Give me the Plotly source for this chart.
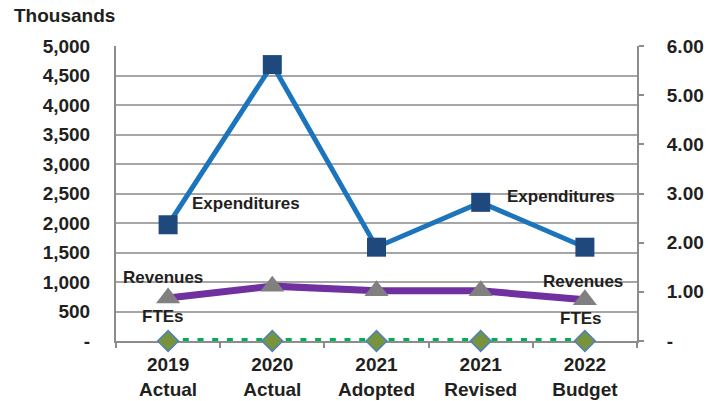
import plotly.graph_objects as go

categories = ["2019<br>Actual", "2020<br>Actual", "2021<br>Adopted", "2021<br>Revised", "2022<br>Budget"]
expenditures = [1970, 4685, 1590, 2350, 1590]
revenues = [730, 930, 850, 850, 700]
ftes = [0, 0, 0, 0, 0]

left_vals = [0, 500, 1000, 1500, 2000, 2500, 3000, 3500, 4000, 4500, 5000]
left_text = ["-", "500", "1,000", "1,500", "2,000", "2,500", "3,000", "3,500", "4,000", "4,500", "5,000"]
right_vals = [0, 1, 2, 3, 4, 5, 6]
right_text = ["-", "1.00", "2.00", "3.00", "4.00", "5.00", "6.00"]

FONT = "Liberation Sans, Arial, sans-serif"
TXT = "#231F20"
AX = "#8C8C8C"

fig = go.Figure()
fig.add_trace(go.Scatter(
    x=categories, y=ftes, yaxis="y2", mode="lines+markers", name="FTEs",
    line=dict(color="#00B050", width=6, dash="6px,8.7px"),
    marker=dict(symbol="diamond", size=16, color="#77933C", line=dict(color="#4F81BD", width=1.5)),
    cliponaxis=False,
))
fig.add_trace(go.Scatter(
    x=categories, y=revenues, mode="lines+markers", name="Revenues",
    line=dict(color="#7030A0", width=7),
    marker=dict(symbol="triangle-up", size=21, color="#808080"),
))
fig.add_trace(go.Scatter(
    x=categories, y=expenditures, mode="lines+markers", name="Expenditures",
    line=dict(color="#1C75BC", width=5),
    marker=dict(symbol="square", size=19, color="#1F497D"),
))

ann_font = dict(family=FONT, size=17, color=TXT)
lab = []
lab.append(dict(x=categories[0], y=expenditures[0], text="<b>Expenditures</b>", xanchor="left", yanchor="middle", xshift=22, yshift=21))
lab.append(dict(x=categories[3], y=expenditures[3], text="<b>Expenditures</b>", xanchor="left", yanchor="middle", xshift=24, yshift=6))
lab.append(dict(x=categories[0], y=revenues[0], text="<b>Revenues</b>", xanchor="center", yanchor="middle", xshift=-5, yshift=20))
lab.append(dict(x=categories[4], y=revenues[4], text="<b>Revenues</b>", xanchor="center", yanchor="middle", xshift=-2, yshift=18))
lab.append(dict(x=categories[0], y=0, text="<b>FTEs</b>", xanchor="center", yanchor="middle", xshift=-5, yshift=25))
lab.append(dict(x=categories[4], y=0, text="<b>FTEs</b>", xanchor="center", yanchor="middle", xshift=-4, yshift=23))
for a in lab:
    a.update(xref="x", yref="y", showarrow=False, font=ann_font)
lab.append(dict(x=-0.2, y=1.105, xref="paper", yref="paper", text="<b>Thousands</b>", showarrow=False,
                xanchor="left", yanchor="middle", font=dict(family=FONT, size=19, color=TXT)))

fig.update_layout(
    width=710, height=401,
    margin=dict(l=116, r=73, t=46, b=60),
    paper_bgcolor="white", plot_bgcolor="white",
    showlegend=False,
    font=dict(family=FONT, size=16, color=TXT),
    annotations=lab,
    xaxis=dict(
        type="category", range=[-0.5, 4.5], tickson="boundaries", automargin=False,
        ticks="outside", ticklen=5, tickcolor=AX, tickwidth=1.5, layer="below traces",
        showline=True, linecolor=AX, linewidth=2, showgrid=False,
        tickfont=dict(family=FONT, size=19, color=TXT), ticklabelstandoff=5,
        tickprefix="<b>", ticksuffix="</b>",
    ),
    yaxis=dict(
        range=[0, 5000], tickvals=left_vals, ticktext=["<b>%s</b>" % t for t in left_text],
        showgrid=True, gridcolor="#A6A6A6", gridwidth=1.5, automargin=False,
        showline=True, linecolor=AX, linewidth=2, zeroline=False, layer="below traces",
        ticks="", ticklabelstandoff=20,
        tickfont=dict(family=FONT, size=19, color=TXT),
    ),
    yaxis2=dict(
        range=[0, 6], tickvals=right_vals, ticktext=["<b>%s</b>" % t for t in right_text],
        overlaying="y", side="right", showgrid=False, zeroline=False, automargin=False,
        showline=True, linecolor=AX, linewidth=2, layer="below traces",
        ticks="outside", ticklen=5, tickcolor=AX, tickwidth=1.5, ticklabelstandoff=19,
        tickfont=dict(family=FONT, size=19, color=TXT),
    ),
)

fig.write_html("out.html")
